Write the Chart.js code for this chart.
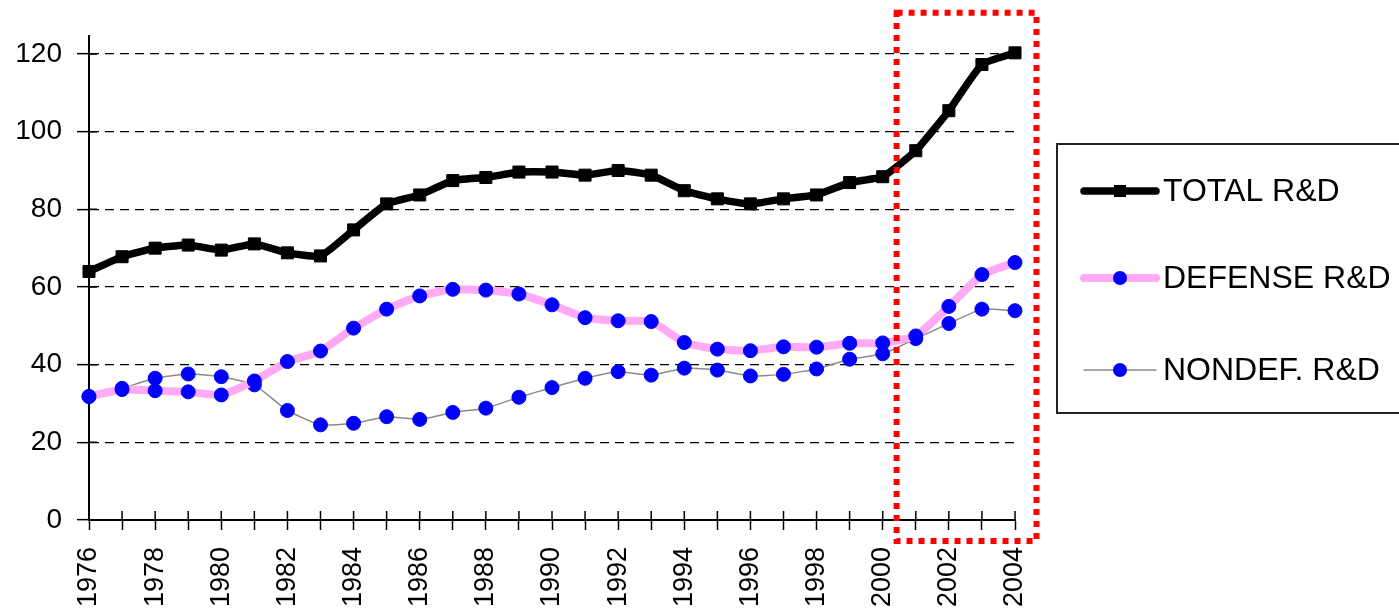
<!DOCTYPE html>
<html><head><meta charset="utf-8">
<script src="https://cdn.jsdelivr.net/npm/chart.js@4"></script>
<style>html,body{margin:0;padding:0;background:#fff}#wrap{position:relative;width:1399px;height:611px}</style>
</head><body><div id="wrap"><canvas id="c"></canvas></div>
<script>
const YEARS = ['1976','1977','1978','1979','1980','1981','1982','1983','1984','1985','1986','1987','1988','1989','1990','1991','1992','1993','1994','1995','1996','1997','1998','1999','2000','2001','2002','2003','2004'];
const TOTAL = [64.0, 67.8, 70.0, 70.8, 69.5, 71.1, 68.8, 68.0, 74.7, 81.4, 83.7, 87.4, 88.2, 89.6, 89.6, 88.8, 90.0, 88.8, 84.8, 82.7, 81.4, 82.7, 83.7, 86.9, 88.4, 95.1, 105.4, 117.3, 120.3];
const DEFENSE = [31.8, 33.6, 33.3, 33.0, 32.2, 35.8, 40.8, 43.5, 49.4, 54.3, 57.7, 59.4, 59.2, 58.2, 55.4, 52.1, 51.3, 51.1, 45.7, 44.0, 43.6, 44.6, 44.5, 45.5, 45.6, 47.4, 55.0, 63.2, 66.3];
const NONDEF = [31.8, 33.9, 36.5, 37.6, 36.9, 34.8, 28.2, 24.5, 24.9, 26.6, 25.9, 27.7, 28.8, 31.6, 34.1, 36.5, 38.2, 37.3, 39.1, 38.6, 37.1, 37.5, 38.9, 41.4, 42.8, 46.7, 50.6, 54.3, 53.9];
const SERIES_NAMES = ['TOTAL R&D', 'DEFENSE R&D', 'NONDEF. R&D'];
const Y_MIN = 0, Y_MAX = 120, Y_STEP = 20;
// highlighted region (category index / value units)
const HL_X = [24.42, 28.65];
const HL_Y = [130.6, -5.4];

const FONT = 'Arial, "Liberation Sans", sans-serif';

const extras = {
  id: 'extras',
  afterDraw(chart) {
    const {ctx, chartArea: ca, scales: {x, y}} = chart;
    ctx.save();
    // inner halves of tick marks + axis extension
    ctx.strokeStyle = '#000';
    ctx.lineWidth = 1.5;
    ctx.beginPath();
    x.ticks.forEach((t, i) => { const px = x.getPixelForTick(i); ctx.moveTo(px, ca.bottom); ctx.lineTo(px, ca.bottom - 9); });
    y.ticks.forEach((t, i) => { const py = y.getPixelForTick(i); ctx.moveTo(ca.left, py); ctx.lineTo(ca.left + 8, py); });
    ctx.stroke();
    ctx.lineWidth = 2;
    ctx.beginPath();
    ctx.moveTo(ca.left, ca.top); ctx.lineTo(ca.left, ca.top - 19);
    ctx.stroke();

    // red dotted highlight box
    const xl = x.getPixelForValue(HL_X[0]), xr = x.getPixelForValue(HL_X[1]);
    const yt = y.getPixelForValue(HL_Y[0]), yb = y.getPixelForValue(HL_Y[1]);
    ctx.strokeStyle = '#ff0000';
    ctx.lineWidth = 6;
    ctx.setLineDash([6, 6]);
    ctx.strokeRect(xl, yt, xr - xl, yb - yt);
    ctx.setLineDash([]);

    // legend
    const lx = 1057, ly = 144, lw = 346, lh = 269;
    ctx.strokeStyle = '#222';
    ctx.lineWidth = 2;
    ctx.strokeRect(lx, ly, lw, lh);
    const rows = [191, 278, 370];
    chart.data.datasets.forEach((ds, i) => {
      const cy = rows[i];
      ctx.strokeStyle = ds.borderColor;
      ctx.lineWidth = ds.borderWidth;
      ctx.lineCap = 'round';
      ctx.beginPath();
      ctx.moveTo(1084, cy); ctx.lineTo(1156, cy);
      ctx.stroke();
      ctx.lineCap = 'butt';
      ctx.fillStyle = ds.pointBackgroundColor;
      if (ds.pointStyle === 'rect') {
        ctx.fillRect(1120 - 6, cy - 6, 12, 12);
      } else {
        ctx.beginPath(); ctx.arc(1120, cy, 7, 0, Math.PI * 2); ctx.fill();
      }
      ctx.fillStyle = '#000';
      ctx.font = '32px ' + FONT;
      ctx.textBaseline = 'middle';
      ctx.textAlign = 'left';
      ctx.fillText(ds.label, 1163, cy + 1);
    });
    ctx.restore();
  }
};

new Chart(document.getElementById('c'), {
  type: 'line',
  data: {
    labels: YEARS,
    datasets: [
      { label: SERIES_NAMES[0], data: TOTAL, borderColor: '#000', borderWidth: 7.5, pointStyle: 'rect', pointRadius: 8.5,
        pointBackgroundColor: '#000', pointBorderColor: '#000', pointBorderWidth: 1, tension: 0.15, clip: false },
      { label: SERIES_NAMES[1], data: DEFENSE, borderColor: '#ffaaf6', borderWidth: 8, pointStyle: 'circle', pointRadius: 7,
        pointBackgroundColor: '#0000ff', pointBorderColor: '#0000ff', pointBorderWidth: 1, tension: 0.15, clip: false },
      { label: SERIES_NAMES[2], data: NONDEF, borderColor: '#8a8a8a', borderWidth: 1.5, pointStyle: 'circle', pointRadius: 7,
        pointBackgroundColor: '#0000ff', pointBorderColor: '#0000ff', pointBorderWidth: 1, tension: 0.15, clip: false }
    ]
  },
  options: {
    responsive: true,
    maintainAspectRatio: false,
    devicePixelRatio: 1,
    animation: false,
    layout: { padding: { left: 0, top: 54, right: 384, bottom: 0 } },
    plugins: { legend: { display: false }, tooltip: { enabled: false } },
    scales: {
      x: {
        offset: false,
        grid: { display: true, drawOnChartArea: false, drawTicks: true, tickLength: 10, tickColor: '#000', tickWidth: 1.5 },
        border: { display: true, color: '#000', width: 2 },
        ticks: {
          autoSkip: false, minRotation: 90, maxRotation: 90, padding: 17, color: '#000',
          font: { family: FONT, size: 27 },
          callback: function(v, i) { return i % 2 === 0 ? this.getLabelForValue(v) : ''; }
        },
        afterFit(scale) { scale.height = 91; }
      },
      y: {
        min: Y_MIN, max: Y_MAX,
        grid: { color: '#000', lineWidth: 1.3, drawTicks: true, tickLength: 12, tickColor: '#000', tickWidth: 1.5 },
        border: { display: true, color: '#000', width: 2, dash: [9, 6] },
        ticks: { stepSize: Y_STEP, padding: 15, color: '#000', font: { family: FONT, size: 28 } },
        afterFit(scale) { scale.width = 89; }
      }
    }
  },
  plugins: [extras]
});
</script></body></html>
